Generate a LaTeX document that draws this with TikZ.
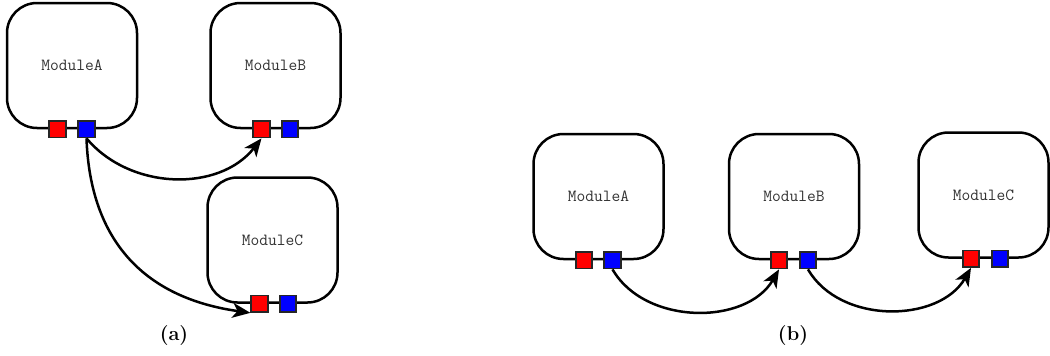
\documentclass[tikz,border=0pt]{standalone}
\usepackage{fontspec}
\usetikzlibrary{arrows.meta,calc}
\tikzset{
  module/.style={draw=black, line width=2.5pt, rounded corners=30pt, minimum width=130pt, minimum height=125pt, inner sep=0pt, font=\ttfamily\fontsize{17}{17}\selectfont, text=black!80},
  redport/.style={draw=black!85, line width=1.7pt, fill=red, minimum size=16.5pt, inner sep=0pt},
  blueport/.style={draw=black!85, line width=1.7pt, fill=blue, minimum size=16.5pt, inner sep=0pt},
  arr/.style={line width=2.5pt, -{Stealth[length=18pt,width=15pt,inset=5pt]}},
  subcap/.style={font=\bfseries\fontsize{20}{20}\selectfont, inner sep=0pt}
}
\begin{document}
\begin{tikzpicture}[x=1pt,y=-1pt]
\useasboundingbox (0,0) rectangle (1050,356);
% (a)
\node[module] (aA) at (72,65.5) {ModuleA};
\node[module] (aB) at (275.5,65.5) {ModuleB};
\node[module] (aC) at (272.5,240) {ModuleC};
\node[redport] (aAr) at ($(aA.south)+(-14.5,0)$) {};
\node[blueport] (aAb) at ($(aA.south)+(14.5,0)$) {};
\node[redport] (aBr) at ($(aB.south)+(-14,0)$) {};
\node[blueport] (aBb) at ($(aB.south)+(14.5,0)$) {};
\node[redport] (aCr) at ($(aC.south)+(-13,0)$) {};
\node[blueport] (aCb) at ($(aC.south)+(15.5,0)$) {};
\draw[arr] (aAb.south) to[out=-50,in=-128] (aBr.south);
\draw[arr] (aAb.south) to[out=-88,in=172,looseness=1.12] (aCr.south west);
\node[subcap] (capa) at (174,336) {(a)};
% (b)
\node[module] (bA) at (598.5,196.5) {ModuleA};
\node[module] (bB) at (794,196.5) {ModuleB};
\node[module] (bC) at (983.5,195) {ModuleC};
\node[redport] (bAr) at ($(bA.south)+(-14.5,0)$) {};
\node[blueport] (bAb) at ($(bA.south)+(14,0)$) {};
\node[redport] (bBr) at ($(bB.south)+(-15,0)$) {};
\node[blueport] (bBb) at ($(bB.south)+(14,0)$) {};
\node[redport] (bCr) at ($(bC.south)+(-12.5,0)$) {};
\node[blueport] (bCb) at ($(bC.south)+(16.5,0)$) {};
\draw[arr] (bAb.south) to[out=-60,in=-120] (bBr.south);
\draw[arr] (bBb.south) to[out=-60,in=-120] (bCr.south);
\node[subcap] (capb) at (793,336) {(b)};
\end{tikzpicture}
\end{document}
